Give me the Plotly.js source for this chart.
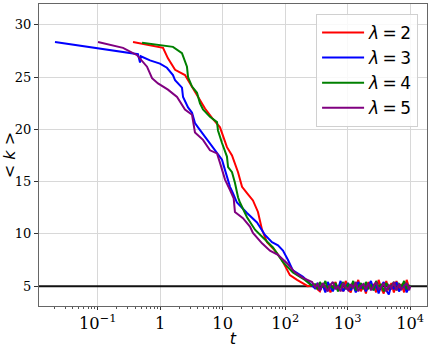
<!DOCTYPE html>
<html><head><meta charset="utf-8">
<script src="https://cdn.plot.ly/plotly-3.0.1.min.js"></script>
<style>html,body{margin:0;padding:0;background:#fff}#chart{width:432px;height:348px}</style>
</head><body><div id="chart"></div>
<script>
const seriesNames = ['<i>λ</i>\u2009=\u20092', '<i>λ</i>\u2009=\u20093', '<i>λ</i>\u2009=\u20094', '<i>λ</i>\u2009=\u20095'];
const seriesColors = ['#ff0000', '#0000ff', '#008000', '#800080'];

const redT = [0.367, 1.11, 1.33, 1.73, 2.49, 3.00, 3.88, 5.21, 6.74, 9.06, 11.7, 14.1, 17.6, 20.4, 24.5, 30.5, 36.7, 42.6, 51.2, 68.7, 88.9, 119, 155, 230];
const redK = [28.37, 27.8, 26.8, 25.7, 25.2, 24.4, 23.3, 22.0, 21.1, 20.2, 18.3, 17.5, 15.9, 14.5, 13.9, 13.2, 12.1, 10.4, 9.2, 8.4, 7.5, 6.05, 5.6, 5.0];

const blueT = [0.0207, 0.441, 0.475, 0.49, 0.687, 0.99, 1.28, 1.60, 1.73, 2.23, 2.32, 2.79, 3.23, 3.60, 4.03, 5.21, 6.26, 7.53, 9.75, 10.9, 12.2, 13.1, 14.6, 16.9, 24.5, 35.4, 47.5, 61.5, 76.7, 92.2, 111, 133, 193, 249];
const blueK = [28.37, 27.2, 26.4, 27.0, 26.6, 26.3, 25.9, 25.2, 24.7, 24.0, 23.1, 22.1, 21.6, 20.6, 20.2, 19.3, 18.7, 18.0, 17.1, 16.1, 15.2, 14.5, 13.9, 13.0, 12.0, 11.1, 9.9, 9.2, 8.9, 8.4, 7.5, 6.5, 5.9, 5.3];

const greenT = [0.512, 1.60, 2.23, 2.49, 2.68, 2.79, 3.23, 3.88, 4.33, 4.84, 6.26, 8.11, 8.41, 9.75, 11.7, 12.2, 14.1, 15.7, 17.6, 18.9, 24.5, 32.9, 44.2, 63.8, 92.2, 133, 207, 260];
const greenK = [28.3, 27.9, 27.3, 26.6, 26.0, 25.0, 24.1, 23.5, 22.5, 21.9, 21.2, 20.7, 19.9, 18.7, 17.4, 16.4, 15.9, 14.9, 13.5, 13.0, 11.6, 10.4, 9.6, 8.7, 7.3, 6.3, 5.6, 5.1];

const purpleT = [0.101, 0.254, 0.426, 0.615, 0.740, 0.922, 1.33, 1.86, 2.49, 3.23, 3.60, 4.84, 6.26, 8.11, 9.06, 10.1, 10.9, 13.1, 15.0, 15.7, 21.1, 27.3, 30.5, 42.6, 57.1, 76.7, 107, 144, 193, 270];
const purpleK = [28.37, 27.8, 27.1, 26.0, 24.9, 24.4, 23.8, 23.1, 21.9, 21.4, 19.7, 19.0, 18.0, 17.7, 16.8, 15.9, 15.2, 14.2, 13.4, 12.1, 11.5, 10.7, 10.1, 9.1, 8.4, 8.0, 7.2, 6.3, 5.8, 5.4];

const tailT = [300, 330, 360, 400, 440, 480, 530, 580, 640, 700, 770, 850, 930, 1020, 1120, 1230, 1350, 1480, 1630, 1790, 1960, 2150, 2360, 2600, 2850, 3130, 3440, 3780, 4150, 4560, 5010, 5500, 6040, 6640, 7290, 8010, 8800, 9660, 10000];
const redTail = [5.1, 4.7, 4.5, 5.2, 4.6, 5.3, 4.4, 4.9, 5.4, 4.6, 5.2, 4.5, 5.5, 4.8, 4.4, 5.3, 4.9, 5.6, 4.5, 5.1, 4.3, 5.4, 4.7, 5.2, 4.4, 5.6, 4.8, 4.3, 5.5, 4.6, 5.3, 4.4, 5.5, 4.7, 5.2, 4.4, 5.6, 4.8, 5.0];
const blueTail = [4.8, 5.3, 4.6, 5.1, 4.4, 5.4, 4.9, 4.5, 5.2, 4.7, 5.5, 4.5, 4.9, 5.3, 4.6, 5.1, 4.4, 5.4, 4.8, 5.2, 4.5, 5.0, 5.5, 4.6, 5.2, 4.3, 5.0, 5.4, 4.6, 4.2, 5.1, 4.7, 5.4, 4.5, 4.9, 5.3, 4.4, 5.0, 4.8];
const greenTail = [5.2, 4.7, 5.4, 4.9, 5.5, 4.6, 5.1, 4.8, 5.3, 4.5, 5.0, 5.4, 4.7, 5.2, 4.9, 5.5, 4.6, 5.0, 5.3, 4.7, 5.4, 4.8, 5.1, 4.6, 5.5, 4.9, 5.2, 4.5, 5.3, 4.8, 5.0, 5.4, 4.6, 5.2, 4.9, 5.5, 4.7, 5.1, 4.9];
const purpleTail = [4.9, 5.2, 4.6, 5.3, 4.8, 4.5, 5.1, 5.4, 4.7, 5.0, 4.5, 5.3, 4.9, 4.6, 5.2, 4.8, 5.4, 4.5, 5.0, 5.2, 4.7, 5.3, 4.6, 5.0, 5.4, 4.7, 4.9, 5.3, 4.5, 5.1, 4.8, 5.4, 4.6, 5.2, 4.7, 5.0, 5.3, 4.6, 5.0];

const refLevel = 5;
const yTicks = [5, 10, 15, 20, 25, 30];
const xRangeLog = [-1.94, 4.27];

// reference level line spanning the whole x range (drawn first, under the curves)
const refTrace = {
  type: 'scatter', mode: 'lines', showlegend: false, hoverinfo: 'skip',
  x: [Math.pow(10, xRangeLog[0]), Math.pow(10, xRangeLog[1])], y: [refLevel, refLevel],
  line: {color: '#111', width: 2}, cliponaxis: true
};

const heads = [[redT, redK, redTail], [blueT, blueK, blueTail], [greenT, greenK, greenTail], [purpleT, purpleK, purpleTail]];
const traces = [refTrace].concat(heads.map((h, i) => ({
  type: 'scatter', mode: 'lines',
  x: h[0].concat(tailT), y: h[1].concat(h[2]),
  name: seriesNames[i],
  line: {color: seriesColors[i], width: 2}
})));

const serif = 'DejaVu Serif';
const layout = {
  width: 432, height: 348,
  margin: {l: 39, r: 5, t: 4, b: 42},
  paper_bgcolor: '#fff', plot_bgcolor: '#fff',
  showlegend: true,
  legend: {
    x: 0.977, y: 0.967, xanchor: 'right', yanchor: 'top',
    bgcolor: 'rgba(255,255,255,0.85)', bordercolor: '#d0d0d0', borderwidth: 1,
    font: {family: 'DejaVu Sans', size: 17, color: '#000'},
    tracegroupgap: 0, itemwidth: 42
  },
  xaxis: {
    type: 'log', range: xRangeLog,
    tickmode: 'linear', tick0: 0, dtick: 1,
    exponentformat: 'power',
    ticks: 'outside', ticklen: 3, tickcolor: '#333',
    showgrid: true, gridcolor: '#d8d8d8', gridwidth: 1,
    showline: true, linecolor: '#666', linewidth: 1, mirror: true,
    zeroline: false,
    tickfont: {family: serif, size: 13, color: '#000'},
    minor: {ticks: 'outside', ticklen: 2, tickcolor: '#555', showgrid: false, dtick: 'D1'},
    title: {text: '<i>t</i>', font: {family: 'DejaVu Sans', size: 16, color: '#000'}, standoff: 0}
  },
  yaxis: {
    range: [3.1, 32], tickvals: yTicks,
    ticks: 'outside', ticklen: 4, tickcolor: '#333',
    showgrid: true, gridcolor: '#d8d8d8', gridwidth: 1,
    showline: true, linecolor: '#666', linewidth: 1, mirror: true,
    zeroline: false,
    tickfont: {family: serif, size: 13, color: '#000'},
    title: {text: '&lt; <i>k</i> &gt;', font: {family: 'DejaVu Sans', size: 16, color: '#000'}, standoff: 6}
  }
};
Plotly.newPlot('chart', traces, layout, {displayModeBar: false, staticPlot: true});
</script></body></html>
